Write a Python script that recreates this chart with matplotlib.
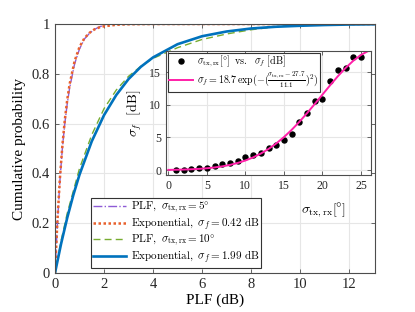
import matplotlib
matplotlib.use("Agg")
import matplotlib.pyplot as plt

# main axes: CDF of PLF (dB)
plf5_x = [0, 0.1, 0.2, 0.3, 0.4, 0.5, 0.6, 0.8, 1.0, 1.2, 1.4, 1.6, 1.8, 2.0, 2.2, 13]
plf5_y = [0, 0.20, 0.37, 0.50, 0.60, 0.68, 0.745, 0.84, 0.90, 0.94, 0.962, 0.978, 0.988, 0.995, 1.0, 1.0]

exp042_x = [0, 0.1, 0.2, 0.3, 0.4, 0.5, 0.6, 0.8, 1.0, 1.2, 1.4, 1.6, 1.8, 2.0, 2.5, 3.0, 4.0, 13]
exp042_y = [0, 0.212, 0.379, 0.510, 0.614, 0.696, 0.760, 0.851, 0.908, 0.943, 0.964, 0.978,
            0.986, 0.991, 0.997, 0.999, 1.0, 1.0]

plf10_x = [0, 0.25, 0.5, 1.0, 1.5, 2.0, 2.5, 3.0, 3.5, 4.0, 5.0, 6.0, 7.0, 8.0, 9.0, 10.0, 11.0, 13]
plf10_y = [0, 0.13, 0.24, 0.42, 0.555, 0.66, 0.735, 0.79, 0.83, 0.862, 0.905, 0.938, 0.96,
           0.977, 0.989, 0.998, 1.0, 1.0]

exp199_x = [0, 0.25, 0.5, 0.75, 1.0, 1.5, 2.0, 2.5, 3.0, 3.5, 4.0, 5.0, 6.0, 7.0, 8.0, 9.0,
            10.0, 11.0, 12.0, 13.0]
exp199_y = [0, 0.118, 0.222, 0.314, 0.395, 0.529, 0.634, 0.715, 0.779, 0.828, 0.866, 0.919,
            0.951, 0.970, 0.982, 0.989, 0.993, 0.996, 0.998, 0.999]

# inset: sigma_f vs sigma_tx,rx
pts_x = list(range(1, 26))
pts_y = [0.0, 0.05, 0.15, 0.25, 0.4, 0.6, 0.87, 1.1, 1.42, 2.03, 2.24, 2.64, 3.42, 3.8, 4.63,
         5.55, 7.35, 8.68, 10.65, 10.92, 13.6, 15.35, 15.55, 17.33, 17.33]

fit_x = list(range(0, 27))
fit_y = [0.037, 0.057, 0.088, 0.132, 0.196, 0.286, 0.409, 0.577, 0.801, 1.095, 1.471, 1.944,
         2.529, 3.237, 4.076, 5.051, 6.156, 7.385, 8.714, 10.117, 11.557, 12.991, 14.366,
         15.631, 16.733, 17.625, 18.266]

plt.rcParams["font.family"] = "serif"
plt.rcParams["font.serif"] = ["Liberation Serif", "DejaVu Serif"]
plt.rcParams["mathtext.fontset"] = "cm"

axis_col = "#4d4d4d"
grid_col = "#e6e6e6"


def style_axes(ax, fs):
    for s in ax.spines.values():
        s.set_color(axis_col)
        s.set_linewidth(0.8)
    ax.tick_params(direction="in", top=True, right=True, length=3, width=0.6,
                   colors=axis_col, labelcolor="#262626", labelsize=fs)
    ax.grid(True, color=grid_col, lw=0.8)
    ax.set_axisbelow(True)


fig = plt.figure(figsize=(4.15, 3.12), dpi=100)
ax = fig.add_axes([0.1325, 0.125, 0.771, 0.798])

ax.plot(plf5_x, plf5_y, color="#8E5BD6", lw=1.0, ls="-.",
        label=r"$\mathrm{PLF},\ \sigma_{\rm tx,rx} = 5\degree$")
ax.plot(exp042_x, exp042_y, color="#E8602C", lw=1.8, ls=(0, (1, 1)),
        label=r"$\mathrm{Exponential},\ \sigma_f = 0.42\ \mathrm{dB}$")
ax.plot(plf10_x, plf10_y, color="#77AC30", lw=1.0, ls=(0, (5, 3)),
        label=r"$\mathrm{PLF},\ \sigma_{\rm tx,rx} = 10\degree$")
ax.plot(exp199_x, exp199_y, color="#0072BD", lw=1.9,
        label=r"$\mathrm{Exponential},\ \sigma_f = 1.99\ \mathrm{dB}$")

ax.set_xlim(0, 13.05)
ax.set_ylim(0, 1)
ax.set_xticks([0, 2, 4, 6, 8, 10, 12])
ax.set_yticks([0, 0.2, 0.4, 0.6, 0.8, 1])
ax.set_yticklabels(["0", "0.2", "0.4", "0.6", "0.8", "1"])
style_axes(ax, 10.5)
ax.set_xlabel("PLF (dB)", fontsize=11, labelpad=2)
ax.set_ylabel("Cumulative probability", fontsize=11, labelpad=4)

leg = ax.legend(loc="lower left", bbox_to_anchor=(0.111, 0.019), borderaxespad=0,
                fontsize=8, handlelength=3.0, labelspacing=0.02, handletextpad=0.4,
                borderpad=0.2, fancybox=False, framealpha=1)
leg.get_frame().set_edgecolor("#333333")
leg.get_frame().set_linewidth(0.8)

# inset
ins = fig.add_axes([0.4, 0.439, 0.494, 0.397])
ins.plot(pts_x, pts_y, "o", color="black", ms=3.6,
         label=r"$\sigma_{\rm tx,rx}[\degree]\ \ \mathrm{vs.}\ \ \sigma_f\ [\mathrm{dB}]$")
ins.plot(fit_x, fit_y, color="#FF1FA8", lw=1.4,
         label=r"$\sigma_f = 18.7\,\exp(-(\frac{\sigma_{\rm tx,rx}-27.7}{11.1})^2)$")
ins.set_xlim(-0.3, 26.3)
ins.set_ylim(-0.75, 18.2)
ins.set_xticks([0, 5, 10, 15, 20, 25])
ins.set_yticks([0, 5, 10, 15])
style_axes(ins, 8.5)
ins.set_ylabel(r"$\sigma_f\ \ [\mathrm{dB}]$", fontsize=10, labelpad=4)
ins.set_xlabel(r"$\sigma_{\rm tx,rx}[\degree]$", fontsize=10)
ins.xaxis.set_label_coords(0.766, -0.2)

leg2 = ins.legend(loc="upper left", bbox_to_anchor=(0.0, 1.0), borderaxespad=0.15,
                  fontsize=7.2, handlelength=2.4, labelspacing=0.0, handletextpad=0.4,
                  borderpad=0.15, fancybox=False, framealpha=1)
leg2.get_frame().set_edgecolor("#333333")
leg2.get_frame().set_linewidth(0.8)

fig.savefig("out.png", dpi=100)
